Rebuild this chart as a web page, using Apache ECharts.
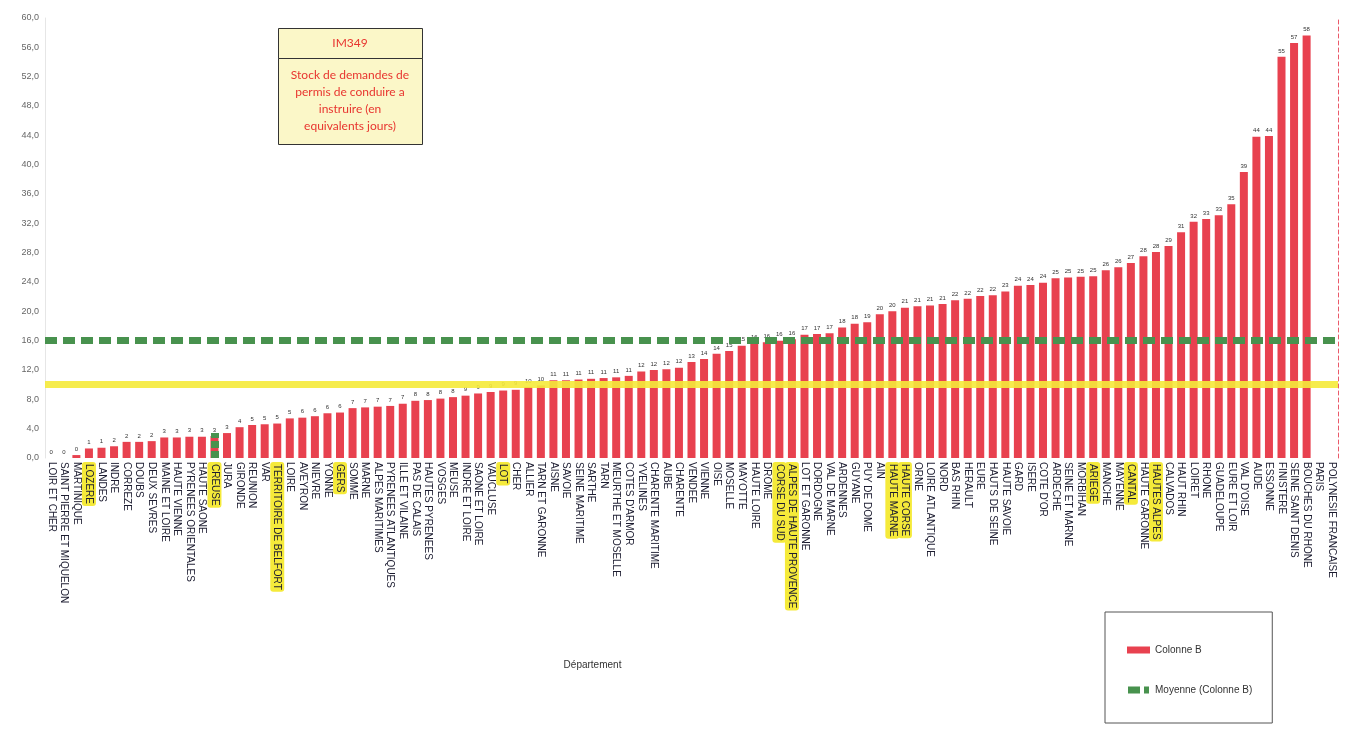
<!DOCTYPE html>
<html>
<head>
<meta charset="utf-8">
<script src="https://cdn.jsdelivr.net/npm/echarts@6/dist/echarts.min.js"></script>
<style>
  html, body { margin: 0; padding: 0; background: #ffffff; }
  #chart { width: 1350px; height: 731px; }
</style>
</head>
<body>
<div id="chart"></div>
<script>
// Départements, sorted by stock of pending licence requests (equivalent days)
const departements = [
  "LOIR ET CHER", "SAINT PIERRE ET MIQUELON", "MARTINIQUE", "LOZERE", "LANDES",
  "INDRE", "CORREZE", "DOUBS", "DEUX SEVRES", "MAINE ET LOIRE",
  "HAUTE VIENNE", "PYRENEES ORIENTALES", "HAUTE SAONE", "CREUSE", "JURA",
  "GIRONDE", "REUNION", "VAR", "TERRITOIRE DE BELFORT", "LOIRE",
  "AVEYRON", "NIEVRE", "YONNE", "GERS", "SOMME",
  "MARNE", "ALPES MARITIMES", "PYRENEES ATLANTIQUES", "ILLE ET VILAINE", "PAS DE CALAIS",
  "HAUTES PYRENEES", "VOSGES", "MEUSE", "INDRE ET LOIRE", "SAONE ET LOIRE",
  "VAUCLUSE", "LOT", "CHER", "ALLIER", "TARN ET GARONNE",
  "AISNE", "SAVOIE", "SEINE MARITIME", "SARTHE", "TARN",
  "MEURTHE ET MOSELLE", "COTES D'ARMOR", "YVELINES", "CHARENTE MARITIME", "AUBE",
  "CHARENTE", "VENDEE", "VIENNE", "OISE", "MOSELLE",
  "MAYOTTE", "HAUTE LOIRE", "DROME", "CORSE DU SUD", "ALPES DE HAUTE PROVENCE",
  "LOT ET GARONNE", "DORDOGNE", "VAL DE MARNE", "ARDENNES", "GUYANE",
  "PUY DE DOME", "AIN", "HAUTE MARNE", "HAUTE CORSE", "ORNE",
  "LOIRE ATLANTIQUE", "NORD", "BAS RHIN", "HERAULT", "EURE",
  "HAUTS DE SEINE", "HAUTE SAVOIE", "GARD", "ISERE", "COTE D'OR",
  "ARDECHE", "SEINE ET MARNE", "MORBIHAN", "ARIEGE", "MANCHE",
  "MAYENNE", "CANTAL", "HAUTE GARONNE", "HAUTES ALPES", "CALVADOS",
  "HAUT RHIN", "LOIRET", "RHONE", "GUADELOUPE", "EURE ET LOIR",
  "VAL D'OISE", "AUDE", "ESSONNE", "FINISTERE", "SEINE SAINT DENIS",
  "BOUCHES DU RHONE", "PARIS", "POLYNESIE FRANCAISE"
];

// Colonne B : stock in equivalent days ('-' = no value)
const colonneB = [
  0, 0, 0.4, 1.3, 1.4,
  1.6, 2.2, 2.2, 2.3, 2.8,
  2.8, 2.9, 2.9, 3.0, 3.4,
  4.2, 4.5, 4.6, 4.7, 5.4,
  5.5, 5.7, 6.1, 6.2, 6.8,
  6.9, 7.0, 7.1, 7.4, 7.8,
  7.9, 8.1, 8.3, 8.5, 8.8,
  9.0, 9.2, 9.3, 9.7, 9.9,
  10.6, 10.6, 10.7, 10.8, 10.9,
  11.0, 11.2, 11.8, 12.0, 12.1,
  12.3, 13.1, 13.5, 14.2, 14.6,
  15.3, 15.7, 15.8, 16.0, 16.2,
  16.8, 16.9, 17.0, 17.8, 18.3,
  18.5, 19.6, 20.0, 20.5, 20.7,
  20.8, 21.0, 21.5, 21.7, 22.1,
  22.2, 22.7, 23.5, 23.6, 23.9,
  24.5, 24.6, 24.7, 24.8, 25.6,
  26.0, 26.6, 27.5, 28.1, 28.9,
  30.8, 32.2, 32.6, 33.1, 34.6,
  39.0, 43.8, 43.9, 54.7, 56.6,
  57.6, '-', '-'
];

// Départements marked with highlighter
const surlignes = [
  "LOZERE", "CREUSE", "TERRITOIRE DE BELFORT", "GERS", "LOT",
  "CORSE DU SUD", "ALPES DE HAUTE PROVENCE", "HAUTE MARNE", "HAUTE CORSE",
  "ARIEGE", "CANTAL", "HAUTES ALPES"
];

const moyenne = 16;        // Moyenne (Colonne B)
const seuil = 10;          // hand-drawn yellow reference line
const repereVert = ["CREUSE", 0, 3.4]; // short green mark at CREUSE

const rouge = '#e8414f';
const vert = '#48924e';
const jaune = '#f5ea3a';

const chart = echarts.init(document.getElementById('chart'), null, { renderer: 'canvas' });

chart.setOption({
  animation: false,
  backgroundColor: '#ffffff',
  textStyle: { fontFamily: 'Liberation Sans, Arial, sans-serif' },
  grid: { left: 45, right: 12, top: 18, bottom: 273, containLabel: false },
  legend: {
    left: 1105, top: 612,
    orient: 'vertical',
    padding: [33, 20, 28, 22],
    itemGap: 30,
    itemWidth: 23, itemHeight: 7,
    borderColor: '#555', borderWidth: 1,
    backgroundColor: '#ffffff',
    textStyle: { fontSize: 10, color: '#333' },
    data: [
      { name: 'Colonne B', icon: 'rect' },
      { name: 'Moyenne (Colonne B)', icon: 'path://M0,0H12V7H0Z M16,0H21V7H16Z' }
    ]
  },
  xAxis: {
    type: 'category',
    data: departements,
    boundaryGap: true,
    name: 'Département',
    nameLocation: 'middle',
    nameGap: 202,
    nameTextStyle: { fontSize: 10, color: '#333', padding: [0, 198, 0, 0] },
    axisLine: { show: false },
    axisTick: { show: false },
    axisLabel: {
      interval: 0,
      rotate: -90,
      margin: 4,
      fontSize: 10,
      color: '#1c1c30',
      formatter: function (v) {
        return surlignes.indexOf(v) >= 0 ? '{hl|' + v + '}' : v;
      },
      rich: {
        hl: {
          fontSize: 10,
          color: '#1c1c30',
          backgroundColor: jaune,
          borderRadius: 3,
          padding: [2, 2]
        }
      }
    }
  },
  yAxis: [
    {
      type: 'value',
      min: 0, max: 60, interval: 4,
      axisLine: { show: true, lineStyle: { color: '#e6e6e6' } },
      axisTick: { show: false },
      splitLine: { show: false },
      axisLabel: {
        fontSize: 9, color: '#666', margin: 6,
        formatter: function (v) { return v.toFixed(1).replace('.', ','); }
      }
    },
    {
      type: 'value',
      position: 'right',
      min: 0, max: 60, interval: 4,
      axisLine: { show: true, lineStyle: { color: '#ea5a6a', type: [4, 3], width: 1 } },
      axisTick: { show: false },
      axisLabel: { show: false },
      splitLine: { show: false }
    }
  ],
  series: [
    {
      name: 'Colonne B',
      type: 'bar',
      data: colonneB,
      barWidth: 8,
      itemStyle: { color: rouge },
      label: {
        show: true,
        position: 'top',
        distance: 3,
        fontSize: 6,
        color: '#333',
        formatter: function (p) {
          return (p.value === '-' || p.value == null) ? '' : String(Math.round(p.value));
        }
      },
      markLine: {
        silent: true,
        symbol: ['none', 'none'],
        label: { show: false },
        lineStyle: { color: jaune, width: 7, type: 'solid', opacity: 0.9 },
        data: [{ yAxis: seuil }],
        z: 5
      }
    },
    {
      name: 'Moyenne (Colonne B)',
      type: 'line',
      data: [],
      symbol: 'none',
      itemStyle: { color: vert },
      lineStyle: { color: vert, width: 6, type: 'dashed' },
      markLine: {
        silent: true,
        symbol: ['none', 'none'],
        label: { show: false },
        lineStyle: { color: vert, width: 7, type: [12, 6] },
        data: [
          { yAxis: moyenne },
          [
            { coord: [repereVert[0], repereVert[1]] },
            { coord: [repereVert[0], repereVert[2]], lineStyle: { color: vert, width: 8, type: [7, 3] } }
          ]
        ],
        z: 6
      }
    }
  ],
  graphic: [
    {
      type: 'rect', left: 278, top: 28, z: 10,
      shape: { width: 144, height: 30 },
      style: { fill: '#fbf7c8', stroke: '#333', lineWidth: 1 }
    },
    {
      type: 'text', x: 350, y: 43, z: 11,
      style: {
        text: 'IM349', textAlign: 'center', textVerticalAlign: 'middle',
        font: '12px Lato, "Liberation Sans", sans-serif', fill: '#e8352f'
      }
    },
    {
      type: 'rect', left: 278, top: 58, z: 10,
      shape: { width: 144, height: 86 },
      style: { fill: '#fbf7c8', stroke: '#333', lineWidth: 1 }
    },
    {
      type: 'text', x: 350, y: 101, z: 11,
      style: {
        text: 'Stock de demandes de\npermis de conduire a\ninstruire (en\nequivalents jours)',
        textAlign: 'center', textVerticalAlign: 'middle', lineHeight: 17,
        font: '12px Lato, "Liberation Sans", sans-serif', fill: '#e8352f'
      }
    }
  ]
});
</script>
</body>
</html>
